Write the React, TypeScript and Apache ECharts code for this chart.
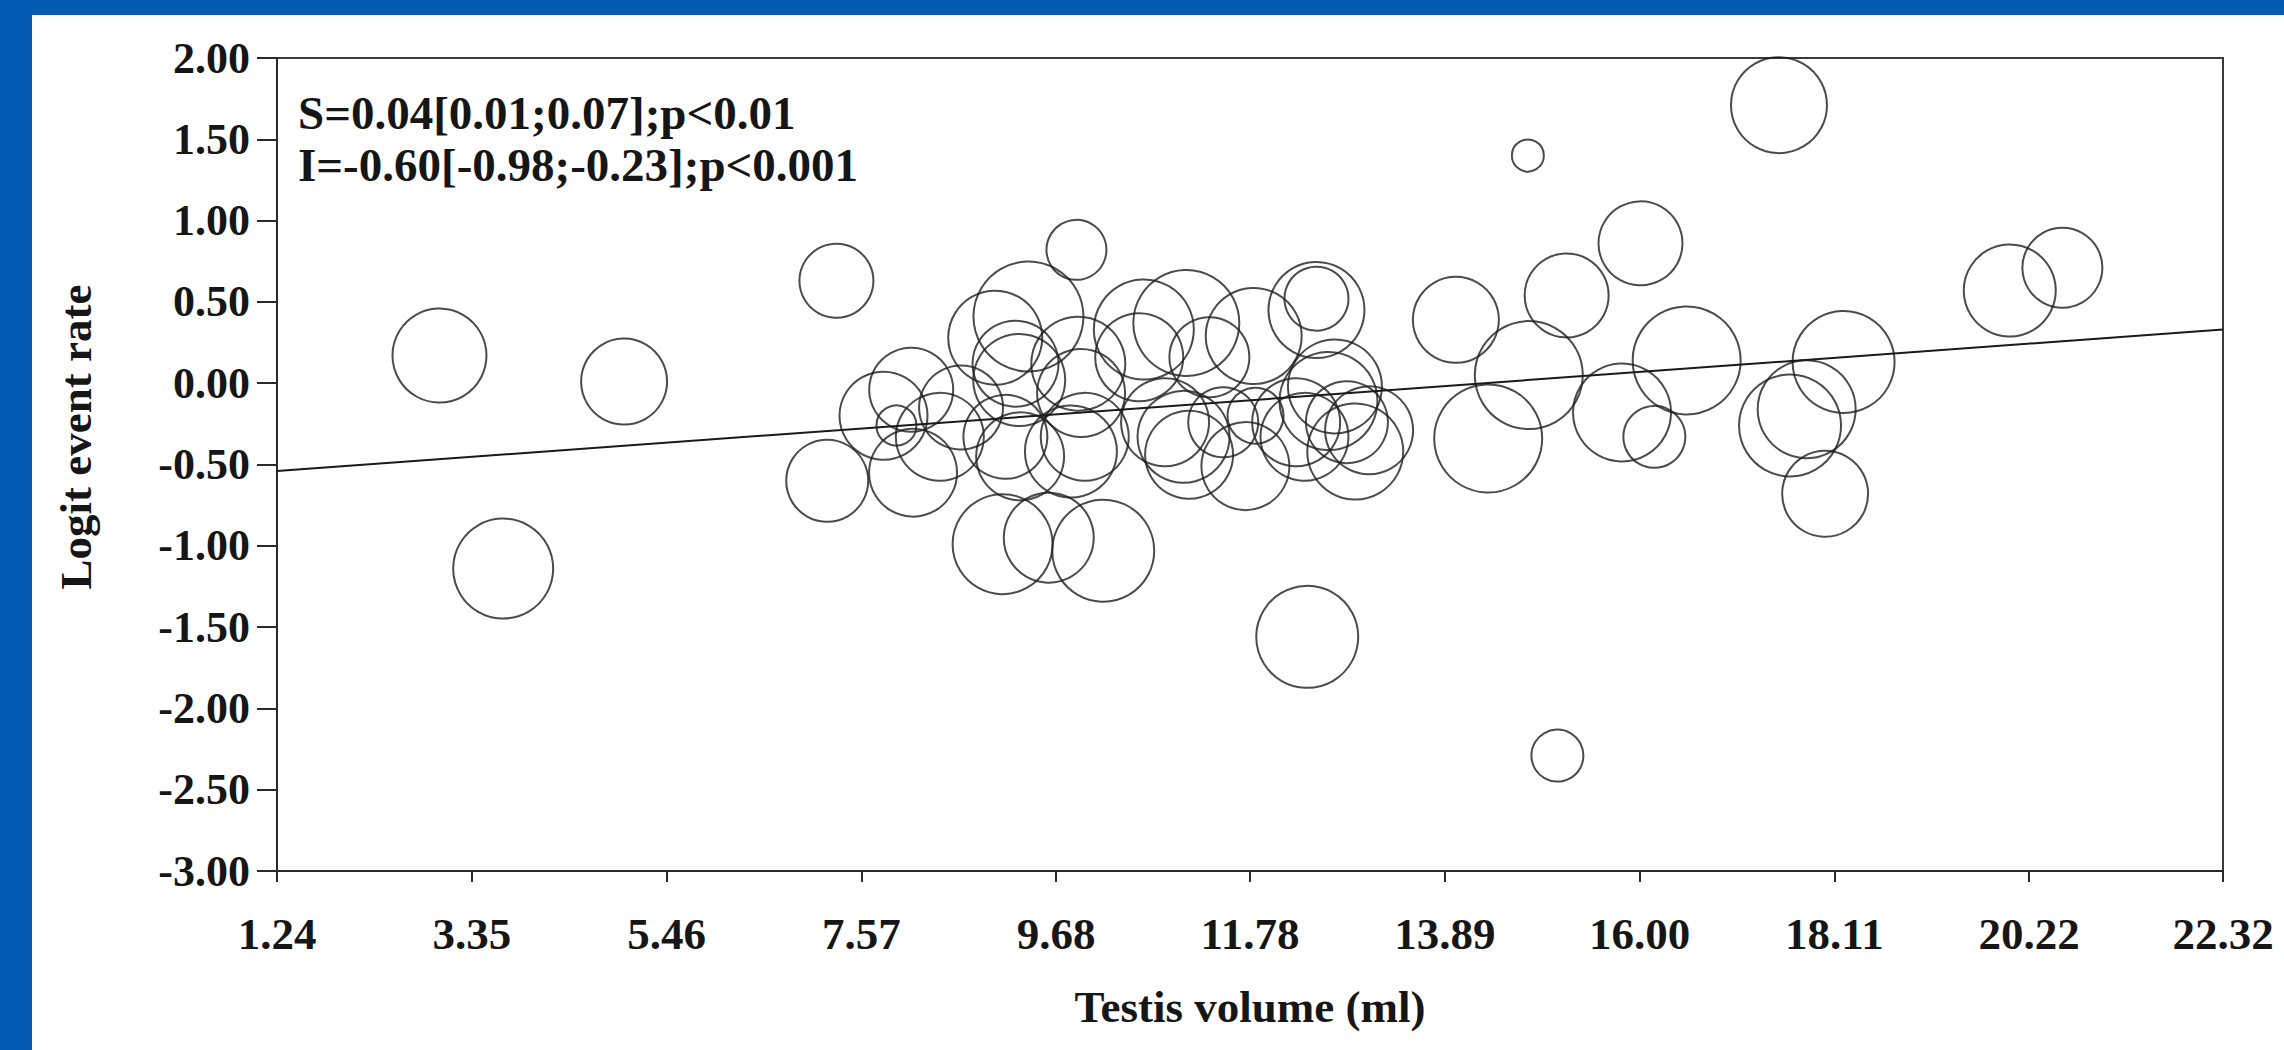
import React, { useEffect, useRef } from "react";
import * as echarts from "echarts";

// Study-level data: testis volume (ml), logit event rate, bubble weight
const volumes = [
  3.0, 3.69, 5.0, 7.2, 7.3, 7.81, 7.95, 8.11, 8.13, 8.42, 8.65, 9.02, 9.1, 9.13, 9.24, 9.28,
  9.29, 9.38, 9.6, 9.9, 9.92, 9.95, 9.99, 9.84, 10.19, 10.58, 10.63, 11.09, 10.86, 11.06, 11.12,
  11.34, 11.49, 11.82, 11.84, 11.73, 12.5, 12.5, 12.7, 12.28, 12.37, 12.63, 12.83, 12.92, 13.07,
  12.4, 14.01, 14.36, 14.8, 14.79, 15.11, 15.21, 15.81, 16.01, 16.16, 16.51, 17.51, 17.63, 17.81,
  18.01, 18.21, 20.01, 20.58,
];
const logitRates = [
  0.17, -1.14, 0.01, -0.6, 0.63, -0.2, -0.26, -0.04, -0.55, -0.33, -0.15, 0.28, -0.99, -0.33, 0.12,
  0.02, -0.45, 0.41, -0.95, 0.82, 0.12, -0.06, -0.33, -0.42, -1.03, 0.16, 0.33, 0.37, -0.24, -0.33,
  -0.44, 0.16, -0.24, 0.29, -0.2, -0.51, 0.45, 0.52, -0.02, -0.24, -0.33, -0.11, -0.24, -0.42, -0.29,
  -1.56, 0.39, -0.34, 0.05, 1.4, -2.29, 0.54, -0.18, 0.86, -0.33, 0.14, 1.71, -0.26, -0.16, -0.68,
  0.13, 0.57, 0.71,
];
const weights = [
  47, 50, 43, 41, 37, 44, 20, 42, 44, 44, 42, 47, 50, 42, 43, 46, 44, 55, 45, 30, 47, 44, 44, 46,
  51, 44, 50, 53, 44, 46, 44, 40, 35, 48, 28, 44, 48, 32, 47, 44, 44, 49, 41, 48, 44, 51, 43, 54,
  54, 16, 26, 42, 49, 42, 31, 54, 48, 51, 49, 43, 51, 46, 40,
];

// Meta-regression line endpoints
const fitX = [1.24, 22.32];
const fitY = [-0.54, 0.33];

const xTicks = [1.24, 3.35, 5.46, 7.57, 9.68, 11.78, 13.89, 16.0, 18.11, 20.22, 22.32];
const yMin = -3;
const yMax = 2;
const yStep = 0.5;

const annotation = ["S=0.04[0.01;0.07];p<0.01", "I=-0.60[-0.98;-0.23];p<0.001"];
const xTitle = "Testis volume (ml)";
const yTitle = "Logit event rate";

const FONT = "'Liberation Serif', 'Times New Roman', serif";

export default function App() {
  const ref = useRef<HTMLDivElement>(null);

  useEffect(() => {
    document.body.style.margin = "0";
    if (!ref.current) return;
    const chart = echarts.init(ref.current, undefined, { renderer: "svg" });

    const bubbles = volumes.map((v, i) => [v, logitRates[i], weights[i]]);
    const fit = fitX.map((v, i) => [v, fitY[i]]);

    chart.setOption({
      animation: false,
      backgroundColor: "#ffffff",
      grid: {
        left: 277,
        right: 61,
        top: 58,
        bottom: 179,
        show: true,
        borderColor: "#3a3a3a",
        borderWidth: 2,
        backgroundColor: "transparent",
      },
      xAxis: {
        type: "value",
        min: 1.24,
        max: 22.32,
        splitLine: { show: false },
        axisLine: { show: true, onZero: false, lineStyle: { color: "#2a2a2a", width: 2 } },
        axisTick: { show: true, inside: false, length: 11, customValues: xTicks, lineStyle: { color: "#2a2a2a", width: 2 } },
        axisLabel: {
          customValues: xTicks,
          formatter: (v: number) => v.toFixed(2),
          margin: 40,
          fontFamily: FONT,
          fontWeight: "bold",
          fontSize: 45,
          color: "#161616",
        },
      },
      yAxis: {
        type: "value",
        min: yMin,
        max: yMax,
        interval: yStep,
        splitLine: { show: false },
        axisLine: { show: true, onZero: false, lineStyle: { color: "#2a2a2a", width: 2 } },
        axisTick: { show: true, inside: false, length: 20, lineStyle: { color: "#2a2a2a", width: 2 } },
        axisLabel: {
          formatter: (v: number) => v.toFixed(2),
          margin: 27,
          fontFamily: FONT,
          fontWeight: "bold",
          fontSize: 44,
          color: "#161616",
        },
      },
      series: [
        {
          type: "scatter",
          data: bubbles,
          symbol: "circle",
          symbolSize: (val: number[]) => val[2] * 2,
          itemStyle: { color: "rgba(0,0,0,0)", borderColor: "#1e1e1e", borderWidth: 2 },
          emphasis: { disabled: true },
          z: 2,
        },
        {
          type: "line",
          data: fit,
          showSymbol: false,
          symbol: "none",
          lineStyle: { color: "#1a1a1a", width: 2 },
          z: 3,
        },
      ],
      graphic: [
        { type: "rect", left: 0, top: 0, shape: { width: 2284, height: 15 }, style: { fill: "#055BB3" }, z: 100 },
        { type: "rect", left: 0, top: 0, shape: { width: 32, height: 1050 }, style: { fill: "#055BB3" }, z: 100 },
        {
          type: "text",
          x: 298,
          y: 113,
          style: {
            text: annotation[0],
            font: `bold 47px ${FONT}`,
            fill: "#161616",
            textVerticalAlign: "middle",
          },
          z: 50,
        },
        {
          type: "text",
          x: 298,
          y: 165,
          style: {
            text: annotation[1],
            font: `bold 47px ${FONT}`,
            fill: "#161616",
            textVerticalAlign: "middle",
          },
          z: 50,
        },
        {
          type: "text",
          x: 1250,
          y: 1007,
          style: {
            text: xTitle,
            font: `bold 45px ${FONT}`,
            fill: "#161616",
            textAlign: "center",
            textVerticalAlign: "middle",
          },
          z: 50,
        },
        {
          type: "text",
          x: 76,
          y: 437,
          rotation: Math.PI / 2,
          style: {
            text: yTitle,
            font: `bold 45px ${FONT}`,
            fill: "#161616",
            textAlign: "center",
            textVerticalAlign: "middle",
          },
          z: 50,
        },
      ],
    });

    return () => chart.dispose();
  }, []);

  return <div ref={ref} style={{ width: 2284, height: 1050 }} />;
}
